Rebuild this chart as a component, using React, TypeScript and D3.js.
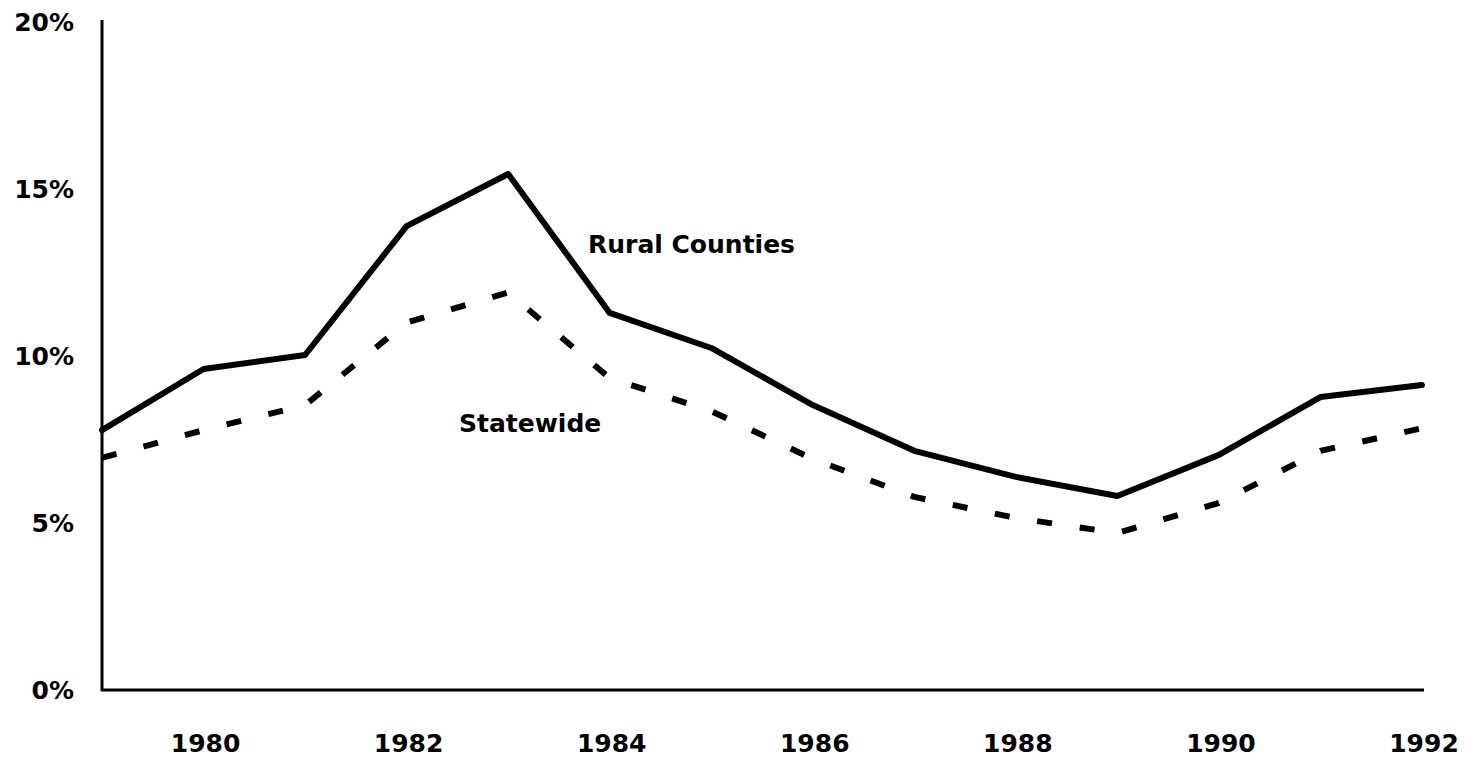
import React from "react";
import * as d3 from "d3";

const years = [1979, 1980, 1981, 1982, 1983, 1984, 1985, 1986, 1987, 1988, 1989, 1990, 1991, 1992];
const rural = [7.78, 9.61, 10.03, 13.89, 15.45, 11.29, 10.24, 8.53, 7.16, 6.38, 5.81, 7.04, 8.77, 9.13];
const statewide = [6.95, 7.78, 8.53, 11.0, 11.9, 9.34, 8.35, 6.92, 5.78, 5.15, 4.7, 5.6, 7.16, 7.84];
const yTicks = [0, 5, 10, 15, 20];
const xTickYears = [1980, 1982, 1984, 1986, 1988, 1990, 1992];
const seriesLabels = { rural: "Rural Counties", statewide: "Statewide" };

const W = 1469;
const H = 757;
const FONT = "'DejaVu Sans', Verdana, sans-serif";

export default function App() {
  const x = d3.scaleLinear().domain([1979, 1992]).range([102, 1422]);
  const y = d3.scaleLinear().domain([0, 20]).range([690, 22]);
  const line = d3
    .line<number>()
    .x((_, i) => x(years[i]))
    .y((d) => y(d));

  return (
    <div style={{ position: "absolute", left: 0, top: 0 }}>
      <svg width={W} height={H} style={{ display: "block", background: "#fff" }}>
        {/* axes */}
        <line x1={x(1979)} x2={x(1979)} y1={20} y2={y(0) + 1} stroke="#000" strokeWidth={3} />
        <line x1={x(1979) - 1} x2={1424} y1={y(0)} y2={y(0)} stroke="#000" strokeWidth={3} />

        {/* y tick labels */}
        {yTicks.map((t) => (
          <text
            key={t}
            x={74}
            y={y(t)}
            dy="0.36em"
            textAnchor="end"
            fontFamily={FONT}
            fontWeight="bold"
            fontSize={25}
            fill="#000"
          >
            {t}%
          </text>
        ))}

        {/* x tick labels */}
        {xTickYears.map((yr) => (
          <text
            key={yr}
            x={x(yr) + 2}
            y={752}
            textAnchor="middle"
            fontFamily={FONT}
            fontWeight="bold"
            fontSize={25}
            fill="#000"
          >
            {yr}
          </text>
        ))}

        {/* series */}
        <path
          d={line(statewide) || ""}
          fill="none"
          stroke="#000"
          strokeWidth={6}
          strokeDasharray="15 28"
        />
        <path
          d={line(rural) || ""}
          fill="none"
          stroke="#000"
          strokeWidth={6}
          strokeLinejoin="round"
          strokeLinecap="round"
        />

        {/* series labels */}
        <text x={588} y={253} fontFamily={FONT} fontWeight="bold" fontSize={25} fill="#000">
          {seriesLabels.rural}
        </text>
        <text x={459} y={432} fontFamily={FONT} fontWeight="bold" fontSize={25} fill="#000">
          {seriesLabels.statewide}
        </text>
      </svg>
    </div>
  );
}
